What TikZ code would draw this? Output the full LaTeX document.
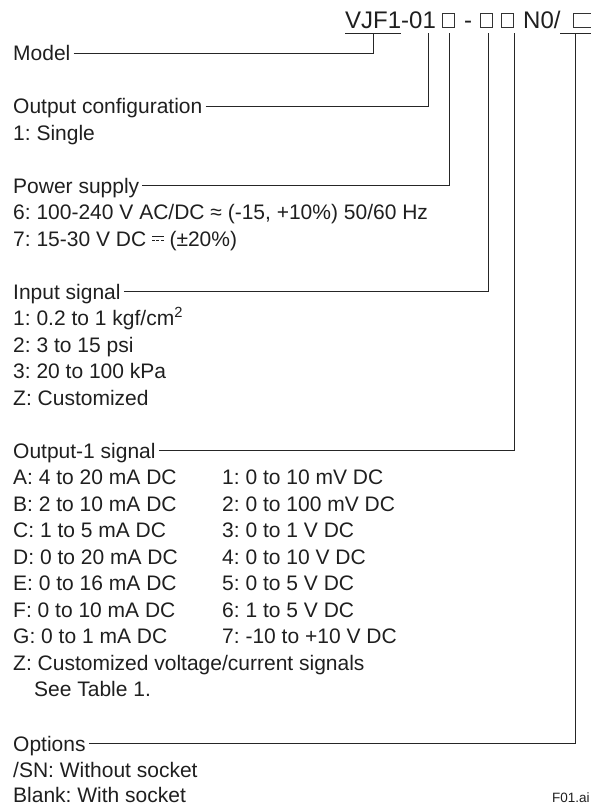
\documentclass[tikz,border=0pt]{standalone}
\usepackage{fontspec}
\setmainfont{Liberation Sans}
\usetikzlibrary{positioning}
\frenchspacing

% DC sign: solid bar over a dashed bar
\newcommand{\dcsign}{\mbox{\raisebox{0.42em}{\rlap{\rule{0.55em}{0.05em}}}\raisebox{0.24em}{\rule{0.14em}{0.05em}\kern0.066em\rule{0.14em}{0.05em}\kern0.066em\rule{0.14em}{0.05em}}}}

\tikzset{
  lbl/.style={anchor=base west, inner sep=0pt, text=black!88, font=\fontsize{21}{26}\selectfont},
  codetxt/.style={lbl, font=\fontsize{24}{28}\selectfont},
  slot/.style={draw=black!80, line width=0.7pt, minimum width=12pt, minimum height=14pt, inner sep=0pt, anchor=south},
  lead/.style={draw=black!85, line width=0.9pt},
}

\begin{document}
\begin{tikzpicture}[x=1pt,y=-1pt]
\useasboundingbox (0,0) rectangle (591,807);

% model code on top
\node[codetxt] (code) at (345,28) {VJF1-01};
\node[slot] (b1) at (448,28) {};
\node[codetxt] (dash) at (464,28) {-};
\node[slot] (b2) at (486,28) {};
\node[slot] (b3) at (507,28) {};
\node[codetxt] (nzero) at (523,28) {N0/};
\node[slot, minimum width=19pt] (b4) at (582.5,28) {};
\draw[lead] (345,33) -- (401,33);
\draw[lead] (560,33) -- (591,33);

\coordinate (tm) at (373,33);
\coordinate (to) at (428,33);
\coordinate (tp) at (449,33);
\coordinate (ti) at (488,33);
\coordinate (tq) at (514,33);
\coordinate (ts) at (575,33);

% left column
\node[lbl] (model) at (13,60.5) {Model};
\node[lbl] (ocfg) at (13,113.5) {Output configuration};
\node[lbl] (single) at (13,140) {1: Single};
\node[lbl] (pwr) at (13,193) {Power supply};
\node[lbl] (pwr6) at (13,219.5) {6: 100-240 V AC/DC \char"2248{} (-15, +10\%) 50/60 Hz};
\node[lbl] (pwr7) at (13,246) {7: 15-30 V DC \dcsign{} (\char"00B1 20\%)};
\node[lbl] (insig) at (13,299) {Input signal};
\node[lbl] (in1) at (13,325.5) {1: 0.2 to 1 kgf/cm\textsuperscript{2}};
\node[lbl] (in2) at (13,352) {2: 3 to 15 psi};
\node[lbl] (in3) at (13,378.5) {3: 20 to 100 kPa};
\node[lbl] (inz) at (13,405) {Z: Customized};
\node[lbl] (outsig) at (13,458) {Output-1 signal};
\node[lbl] (oa) at (13,484.5) {A: 4 to 20 mA DC};
\node[lbl] (ob) at (13,511) {B: 2 to 10 mA DC};
\node[lbl] (oc) at (13,537.5) {C: 1 to 5 mA DC};
\node[lbl] (od) at (13,564) {D: 0 to 20 mA DC};
\node[lbl] (oe) at (13,590.5) {E: 0 to 16 mA DC};
\node[lbl] (of) at (13,617) {F: 0 to 10 mA DC};
\node[lbl] (og) at (13,643.5) {G: 0 to 1 mA DC};
\node[lbl] (oz) at (13,670) {Z: Customized voltage/current signals};
\node[lbl] (osee) at (34,696.5) {See Table 1.};
\node[lbl] (opt) at (13,751) {Options};
\node[lbl] (optsn) at (13,777) {/SN: Without socket};
\node[lbl] (optbl) at (13,802.5) {Blank: With socket};

% right column of output codes
\node[lbl] (o1) at (222,484.5) {1: 0 to 10 mV DC};
\node[lbl] (o2) at (222,511) {2: 0 to 100 mV DC};
\node[lbl] (o3) at (222,537.5) {3: 0 to 1 V DC};
\node[lbl] (o4) at (222,564) {4: 0 to 10 V DC};
\node[lbl] (o5) at (222,590.5) {5: 0 to 5 V DC};
\node[lbl] (o6) at (222,617) {6: 1 to 5 V DC};
\node[lbl] (o7) at (222,643.5) {7: -10 to +10 V DC};

\node[lbl, font=\fontsize{13.5}{16}\selectfont] (fig) at (552,802.5) {F01.ai};

% leader lines
\draw[lead] ([shift={(3pt,7.5pt)}]model.base east) -| (tm);
\draw[lead] ([shift={(3pt,7.5pt)}]ocfg.base east) -| (to);
\draw[lead] ([shift={(3pt,7.5pt)}]pwr.base east) -| (tp);
\draw[lead] ([shift={(3pt,7.5pt)}]insig.base east) -| (ti);
\draw[lead] ([shift={(3pt,7.5pt)}]outsig.base east) -| (tq);
\draw[lead] ([shift={(3pt,7.5pt)}]opt.base east) -| (ts);
\end{tikzpicture}
\end{document}
